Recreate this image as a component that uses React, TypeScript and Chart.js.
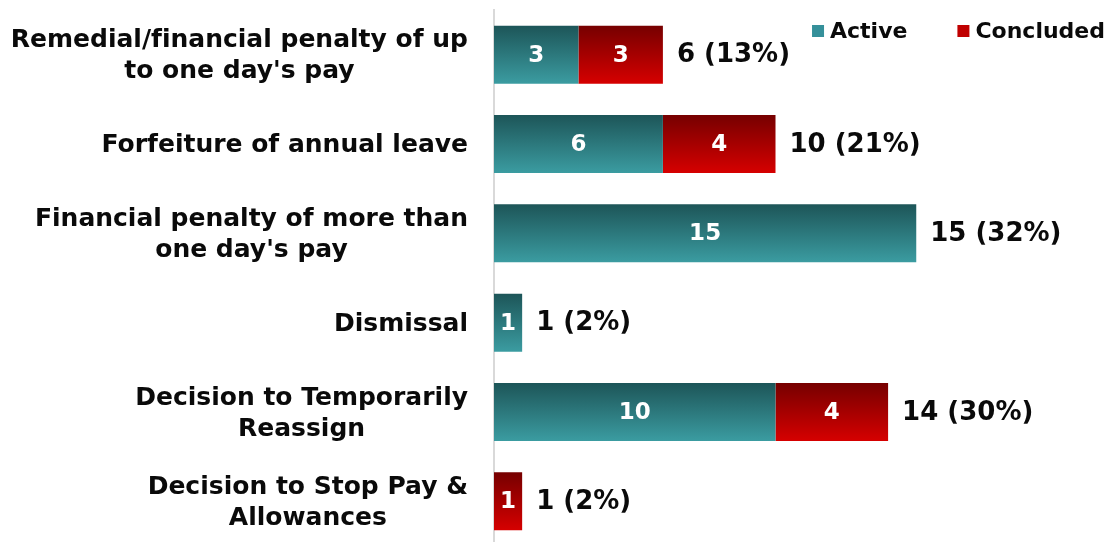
import React, { useEffect, useRef } from "react";
import { Chart, registerables } from "chart.js";

Chart.register(...registerables);

const categories: string[][] = [
  ["Remedial/financial penalty of up", "to one day's pay"],
  ["Forfeiture of annual leave"],
  ["Financial penalty of more than", "one day's pay"],
  ["Dismissal"],
  ["Decision to Temporarily", "Reassign"],
  ["Decision to Stop Pay &", "Allowances"],
];
const activeValues = [3, 6, 15, 1, 10, 0];
const concludedValues = [3, 4, 0, 0, 4, 1];
const seriesNames = ["Active", "Concluded"];

const FONT = '"DejaVu Sans", "Liberation Sans", sans-serif';
const TEAL_TOP = "#1d5558";
const TEAL_BOTTOM = "#3b9ca1";
const RED_TOP = "#760000";
const RED_BOTTOM = "#d60000";
const LEGEND_COLORS = ["#35909a", "#c00000"];
const BAR_PCT = 0.65;

function gradientFor(top: string, bottom: string) {
  return (c: any) => {
    const chart = c.chart;
    const ys = chart.scales && chart.scales.y;
    if (!chart.chartArea || !ys || c.dataIndex === undefined) return bottom;
    const y = ys.getPixelForValue(c.dataIndex);
    const band = (chart.chartArea.bottom - chart.chartArea.top) / categories.length;
    const h = (band * BAR_PCT) / 2;
    const g = chart.ctx.createLinearGradient(0, y - h, 0, y + h);
    g.addColorStop(0, top);
    g.addColorStop(1, bottom);
    return g;
  };
}

const textPlugin = {
  id: "customText",
  afterDatasetsDraw(chart: any) {
    const ctx = chart.ctx;
    const xs = chart.scales.x;
    const ys = chart.scales.y;
    const area = chart.chartArea;
    ctx.save();
    ctx.textBaseline = "middle";
    try {
      ctx.textRendering = "optimizeSpeed";
    } catch (e) {}

    // values inside bars
    ctx.font = `bold 23px ${FONT}`;
    ctx.fillStyle = "#ffffff";
    ctx.textAlign = "center";
    chart.data.datasets.forEach((ds: any, di: number) => {
      const meta = chart.getDatasetMeta(di);
      meta.data.forEach((el: any, i: number) => {
        const v = ds.data[i];
        if (!v) return;
        const p = el.getProps(["x", "y", "base"], true);
        ctx.fillText(String(v), (p.x + p.base) / 2, p.y + 1);
      });
    });

    // totals
    const grand = activeValues.reduce((a, b) => a + b, 0) + concludedValues.reduce((a, b) => a + b, 0);
    ctx.font = `bold 26px ${FONT}`;
    ctx.fillStyle = "#0a0a0a";
    ctx.textAlign = "left";
    categories.forEach((_, i) => {
      const t = activeValues[i] + concludedValues[i];
      const x = xs.getPixelForValue(t) + 14;
      const y = ys.getPixelForValue(i);
      ctx.fillText(`${t} (${Math.round((t / grand) * 100)}%)`, x, y + 1);
    });

    // category labels: block right-aligned, lines centred
    ctx.font = `bold 25px ${FONT}`;
    ctx.textAlign = "center";
    categories.forEach((lines, i) => {
      const y = ys.getPixelForValue(i);
      const w = Math.max(...lines.map((l) => ctx.measureText(l).width));
      const cx = area.left - 26 - w / 2;
      lines.forEach((l, k) => {
        ctx.fillText(l, cx, y + (k - (lines.length - 1) / 2) * 31 + 1.5);
      });
    });

    // legend
    ctx.font = `bold 22px ${FONT}`;
    ctx.textAlign = "left";
    const right = chart.width - 6;
    const wC = ctx.measureText(seriesNames[1]).width;
    const wA = ctx.measureText(seriesNames[0]).width;
    const xTextC = right - wC;
    const xSqC = xTextC - 18;
    const xTextA = xSqC - 50 - wA;
    const xSqA = xTextA - 18;
    const ly = 31;
    ctx.fillStyle = LEGEND_COLORS[0];
    ctx.fillRect(xSqA, ly - 6, 12, 12);
    ctx.fillStyle = LEGEND_COLORS[1];
    ctx.fillRect(xSqC, ly - 6, 12, 12);
    ctx.fillStyle = "#0a0a0a";
    ctx.fillText(seriesNames[0], xTextA, ly + 1);
    ctx.fillText(seriesNames[1], xTextC, ly + 1);

    ctx.restore();
  },
};

export default function App() {
  const ref = useRef<HTMLCanvasElement | null>(null);

  useEffect(() => {
    document.body.style.margin = "0";
    document.body.style.overflow = "hidden";
    const canvas = ref.current;
    if (!canvas) return;
    const chart = new Chart(canvas, {
      type: "bar",
      data: {
        labels: categories,
        datasets: [
          {
            label: seriesNames[0],
            data: activeValues,
            backgroundColor: gradientFor(TEAL_TOP, TEAL_BOTTOM),
            borderWidth: 0,
          },
          {
            label: seriesNames[1],
            data: concludedValues,
            backgroundColor: gradientFor(RED_TOP, RED_BOTTOM),
            borderWidth: 0,
          },
        ],
      },
      options: {
        indexAxis: "y",
        responsive: false,
        animation: false,
        datasets: { bar: { barPercentage: BAR_PCT, categoryPercentage: 1 } },
        layout: { padding: { top: 10, right: 54, bottom: 0, left: 0 } },
        plugins: {
          legend: { display: false },
          tooltip: { enabled: false },
          title: { display: false },
        },
        scales: {
          x: {
            stacked: true,
            display: false,
            min: 0,
            max: 20,
          },
          y: {
            stacked: true,
            grid: { display: false, drawTicks: false },
            ticks: { display: false },
            border: { display: true, color: "#d9d9d9", width: 2 },
            afterFit: (s: any) => {
              s.width = 494;
            },
          },
        },
      } as any,
      plugins: [textPlugin],
    });
    return () => chart.destroy();
  }, []);

  return (
    <div style={{ width: 1111, height: 546, position: "relative" }}>
      <canvas ref={ref} width={1111} height={546} style={{ display: "block" }} />
    </div>
  );
}
